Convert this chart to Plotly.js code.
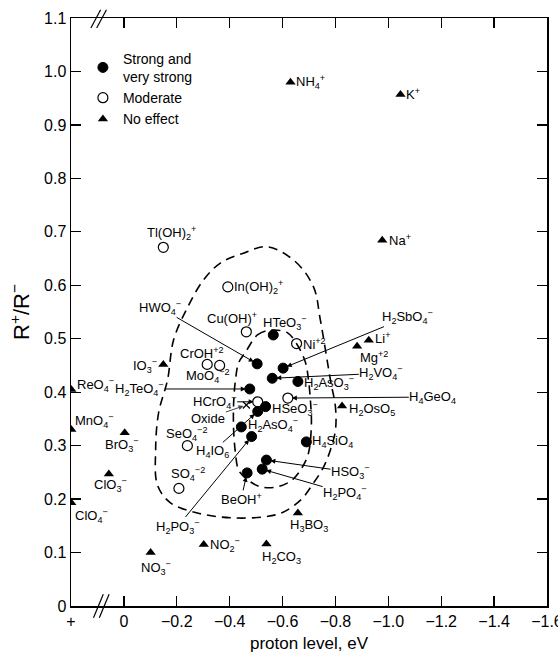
<!DOCTYPE html>
<html>
<head>
<meta charset="utf-8">
<script src="https://cdn.plot.ly/plotly-3.0.1.min.js"></script>
<style>html,body{margin:0;padding:0;background:#fff;}#chart{width:558px;height:656px;}</style>
</head>
<body>
<div id="chart"></div>
<script>
// ---------------- DATA ----------------
// Strong and very strong (filled circles)
const strongLabels = ['HWO<sub>4</sub><sup>−</sup>','H<sub>2</sub>TeO<sub>4</sub><sup>−</sup>','HTeO<sub>3</sub><sup>−</sup>','H<sub>2</sub>SbO<sub>4</sub><sup>−</sup>','H<sub>2</sub>VO<sub>4</sub><sup>−</sup>','H<sub>2</sub>AsO<sub>3</sub><sup>−</sup>','HSeO<sub>3</sub><sup>−</sup>','H<sub>4</sub>IO<sub>6</sub>','H<sub>2</sub>PO<sub>3</sub><sup>−</sup>','H<sub>2</sub>AsO<sub>4</sub><sup>−</sup>','H<sub>4</sub>SiO<sub>4</sub>','HSO<sub>3</sub><sup>−</sup>','H<sub>2</sub>PO<sub>4</sub><sup>−</sup>','BeOH<sup>+</sup>'];
const strongX = [-0.504,-0.476,-0.565,-0.602,-0.561,-0.658,-0.536,-0.506,-0.483,-0.444,-0.690,-0.539,-0.523,-0.466];
const strongY = [0.453,0.406,0.507,0.445,0.426,0.420,0.373,0.364,0.317,0.335,0.307,0.273,0.256,0.249];

// Moderate (open circles)
const moderateLabels = ['Tl(OH)<sub>2</sub><sup>+</sup>','In(OH)<sub>2</sub><sup>+</sup>','Cu(OH)<sup>+</sup>','CrOH<sup>+2</sup>','MoO<sub>4</sub><sup>−2</sup>','HCrO<sub>4</sub><sup>−</sup>','Ni<sup>+2</sup>','H<sub>4</sub>GeO<sub>4</sub>','SeO<sub>4</sub><sup>−2</sup>','SO<sub>4</sub><sup>−2</sup>'];
const moderateX = [-0.149,-0.393,-0.463,-0.315,-0.362,-0.506,-0.653,-0.620,-0.240,-0.208];
const moderateY = [0.671,0.597,0.513,0.452,0.450,0.382,0.491,0.389,0.300,0.220];

// No effect (triangles)
const noEffectLabels = ['NH<sub>4</sub><sup>+</sup>','K<sup>+</sup>','Na<sup>+</sup>','Li<sup>+</sup>','Mg<sup>+2</sup>','H<sub>2</sub>OsO<sub>5</sub>','H<sub>3</sub>BO<sub>3</sub>','H<sub>2</sub>CO<sub>3</sub>','NO<sub>2</sub><sup>−</sup>','NO<sub>3</sub><sup>−</sup>','ClO<sub>4</sub><sup>−</sup>','ClO<sub>3</sub><sup>−</sup>','BrO<sub>3</sub><sup>−</sup>','MnO<sub>4</sub><sup>−</sup>','ReO<sub>4</sub><sup>−</sup>','IO<sub>3</sub><sup>−</sup>'];
const noEffectX = [-0.630,-1.046,-0.977,-0.926,-0.882,-0.825,-0.658,-0.539,-0.302,-0.101,0.199,0.057,-0.003,0.199,0.199,-0.149];
const noEffectY = [0.980,0.957,0.684,0.497,0.486,0.374,0.174,0.116,0.115,0.100,0.193,0.247,0.324,0.330,0.405,0.452];

// Oxide "x" mark
const oxideX = [-0.463];
const oxideY = [0.376];

// Dashed boundary contours
const outerX = [-0.543,-0.649,-0.717,-0.743,-0.781,-0.800,-0.800,-0.781,-0.755,-0.717,-0.668,-0.600,-0.535,-0.403,-0.278,-0.176,-0.127,-0.120,-0.131,-0.165,-0.188,-0.241,-0.301,-0.366,-0.452,-0.543];
const outerY = [0.672,0.644,0.597,0.535,0.423,0.372,0.329,0.292,0.260,0.230,0.198,0.175,0.167,0.165,0.174,0.193,0.226,0.292,0.361,0.423,0.498,0.559,0.610,0.642,0.660,0.672];
const innerX = [-0.460,-0.505,-0.554,-0.619,-0.660,-0.687,-0.698,-0.706,-0.709,-0.698,-0.675,-0.637,-0.581,-0.517,-0.468,-0.434,-0.422,-0.415,-0.415,-0.422,-0.434,-0.460];
const innerY = [0.475,0.507,0.516,0.511,0.485,0.455,0.423,0.380,0.339,0.286,0.260,0.236,0.223,0.223,0.236,0.254,0.286,0.329,0.380,0.423,0.455,0.475];

// Axis ticks
const xTickVals = [0.2,0,-0.2,-0.4,-0.6,-0.8,-1.0,-1.2,-1.4,-1.6];
const xTickText = ['+','0','−0.2','−0.4','−0.6','−0.8','−1.0','−1.2','−1.4','−1.6'];
const yTickVals = [0,0.1,0.2,0.3,0.4,0.5,0.6,0.7,0.8,0.9,1.0,1.1];
const yTickText = ['0','0.1','0.2','0.3','0.4','0.5','0.6','0.7','0.8','0.9','1.0','1.1'];

// ---------------- LABEL PLACEMENT (pixels) ----------------
// arrow: [ 'a', ax, ay ]   text: [ anchor, xshift, yshift ]
const strongPlace = [['a',-97,-56],['a',-110,0],['c',12,12],['a',124,-51],['a',109,-5],['l',5,-2],['l',5,-2],['a',-45,40],['a',-74,90],['l',6,2],['l',5,0],['a',84,12],['a',83,24],['a',-6,26]];
const moderatePlace = [['c',8,14],['l',5,0],['c',-14,14],['c',-5,11],['c',-12,-11],['a',-43,0],['l',5,0],['a',145,-1],['c',-1,12],['c',9,14]];
const noEffectPlace = [['l',5,0],['l',5,0],['l',6,0],['l',5,2],['c',17,-11],['l',6,-3],['c',11,-13],['c',15,-14],['l',5,0],['c',5,-15],['l',3,-13],['c',2,-11],['c',-3,-12],['l',3,9],['l',5,5],['r',-5,-2]];

const FONT = 'Liberation Sans, Arial, sans-serif';
const labelFont = {family: FONT, size: 13, color: '#000'};

function makeAnnotations(labels, xs, ys, place) {
  return labels.map((t, i) => {
    const p = place[i];
    if (p[0] === 'a') {
      return {x: xs[i], y: ys[i], xref: 'x', yref: 'y', text: t, showarrow: true,
              ax: p[1], ay: p[2], arrowhead: 2, arrowsize: 1, arrowwidth: 1, arrowcolor: '#000',
              standoff: 4, font: labelFont, borderpad: 0};
    }
    const anchor = p[0] === 'l' ? 'left' : (p[0] === 'r' ? 'right' : 'center');
    return {x: xs[i], y: ys[i], xref: 'x', yref: 'y', text: t, showarrow: false,
            xanchor: anchor, yanchor: 'middle', xshift: p[1], yshift: p[2], font: labelFont, borderpad: 0};
  });
}

let annotations = []
  .concat(makeAnnotations(strongLabels, strongX, strongY, strongPlace))
  .concat(makeAnnotations(moderateLabels, moderateX, moderateY, moderatePlace))
  .concat(makeAnnotations(noEffectLabels, noEffectX, noEffectY, noEffectPlace));

// Oxide label with small arrow to the x mark
annotations.push({x: oxideX[0], y: oxideY[0], xref: 'x', yref: 'y', text: 'Oxide', showarrow: true,
  ax: -38, ay: 13, arrowhead: 2, arrowsize: 1, arrowwidth: 1, standoff: 3, font: labelFont, borderpad: 0});

const dashLine = {color: '#000', width: 1.6, dash: '9px,6px', shape: 'spline', smoothing: 1};
const traces = [
  {x: outerX, y: outerY, mode: 'lines', line: dashLine, showlegend: false, hoverinfo: 'skip'},
  {x: innerX, y: innerY, mode: 'lines', line: dashLine, showlegend: false, hoverinfo: 'skip'},
  {x: strongX, y: strongY, mode: 'markers', name: 'Strong and<br>very strong',
   marker: {symbol: 'circle', size: 10, color: '#000', line: {color: '#000', width: 1}}},
  {x: moderateX, y: moderateY, mode: 'markers', name: 'Moderate',
   marker: {symbol: 'circle-open', size: 10, color: '#000', line: {color: '#000', width: 1.2}}},
  {x: noEffectX, y: noEffectY, mode: 'markers', name: 'No effect',
   marker: {symbol: 'triangle-up', size: 9, color: '#000'}},
  {x: oxideX, y: oxideY, mode: 'markers', showlegend: false,
   marker: {symbol: 'x-thin-open', size: 7, color: '#000', line: {color: '#000', width: 1.2}}}
];

// axis break marks "//"
const breakShapes = [];
[[0.125,0.088],[0.103,0.066]].forEach(b => {
  breakShapes.push({type: 'line', xref: 'x', yref: 'paper', x0: b[0], x1: b[1], y0: 0.983, y1: 1.014, line: {color: '#000', width: 1.2}});
  breakShapes.push({type: 'line', xref: 'x', yref: 'paper', x0: b[0] - 0.01, x1: b[1] - 0.01, y0: -0.02, y1: 0.02, line: {color: '#000', width: 1.2}});
});

const layout = {
  width: 558, height: 656,
  margin: {l: 71, r: 11, t: 18, b: 50},
  paper_bgcolor: '#fff', plot_bgcolor: '#fff',
  font: {family: FONT, color: '#000', size: 14},
  showlegend: true,
  legend: {x: 0.025, y: 0.958, xanchor: 'left', yanchor: 'top', bgcolor: 'rgba(0,0,0,0)',
           font: {family: FONT, size: 14, color: '#000'}, tracegroupgap: 0, itemwidth: 30},
  xaxis: {range: [0.2001, -1.6001], tickvals: xTickVals, ticktext: xTickText, ticks: 'inside', ticklen: 10,
          tickwidth: 1.2, tickcolor: '#000', showline: true, linecolor: '#000', linewidth: 1.5, mirror: 'ticks',
          showgrid: false, zeroline: false, tickfont: {family: FONT, size: 16}, ticklabeloverflow: 'allow',
          title: {text: 'proton level, eV', font: {family: FONT, size: 17}, standoff: 8}},
  yaxis: {range: [0, 1.1], tickvals: yTickVals, ticktext: yTickText, ticks: 'inside', ticklen: 10,
          tickwidth: 1.2, tickcolor: '#000', showline: true, linecolor: '#000', linewidth: 1.5, mirror: 'ticks',
          showgrid: false, zeroline: false, tickfont: {family: FONT, size: 16},
          title: {text: 'R<sup>+</sup>/R<sup>−</sup>', font: {family: FONT, size: 22}, standoff: 8}},
  annotations: annotations,
  shapes: breakShapes
};

Plotly.newPlot('chart', traces, layout, {staticPlot: true, displayModeBar: false});
</script>
</body>
</html>
